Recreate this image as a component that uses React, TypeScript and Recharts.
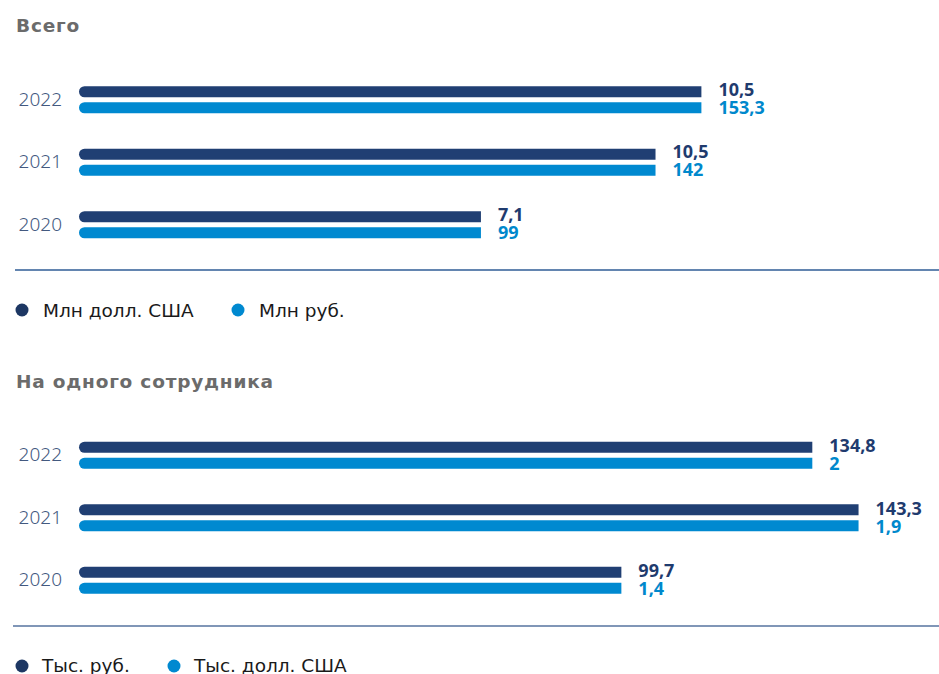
import React from 'react';
import { BarChart, Bar, XAxis, YAxis, LabelList } from 'recharts';

const years = ['2022', '2021', '2020'];
const totalUsd = [10.5, 10.5, 7.1];
const totalRub = [153.3, 142, 99];
const perEmpRub = [134.8, 143.3, 99.7];
const perEmpUsd = [2, 1.9, 1.4];

const titleTop = 'Всего';
const titleBottom = 'На одного сотрудника';
const legendTop = ['Млн долл. США', 'Млн руб.'];
const legendBottom = ['Тыс. руб.', 'Тыс. долл. США'];

const DARK = '#203f73';
const LIGHT = '#0089d0';

const topData = years.map((y, i) => ({ year: y, usd: totalUsd[i], rub: totalRub[i] }));
const bottomData = years.map((y, i) => ({ year: y, rub: perEmpRub[i], usd: perEmpUsd[i] }));

// both bars of a pair share the rouble length, as in the reference
const lengthA = (d: any) => d.rub;
const lengthB = (d: any) => d.rub;

const fmt = (v: any) => String(v).replace('.', ',');

const makeLabel = (color: string, dy: number) => (props: any) => {
  const { x, y, width, value } = props;
  return (
    <text
      x={Number(x) + Number(width) + 17}
      y={Number(y) + dy}
      fill={color}
      fontSize={18}
      fontWeight={700}
      fontFamily="'Noto Sans', sans-serif"
    >
      {fmt(value)}
    </text>
  );
};

const YearTick = (props: any) => {
  const { y, payload } = props;
  return (
    <text
      x={62}
      y={Number(y) + 6}
      textAnchor="end"
      fill="#43597f"
      fontSize={19}
      fontWeight={300}
      fontFamily="'Noto Sans', sans-serif"
    >
      {payload.value}
    </text>
  );
};

const TITLE_FONT = "'DejaVu Sans', sans-serif";
const LEGEND_FONT = "'DejaVu Sans', sans-serif";

export default function App() {
  return (
    <div style={{ position: 'absolute', left: 0, top: 0, width: 939, height: 674, background: '#fff' }}>
      <svg width={939} height={674} style={{ position: 'absolute', left: 0, top: 0 }}>
        <text x={16} y={32} fontSize={18.5} fontWeight={700} fontFamily={TITLE_FONT} letterSpacing={0.8} fill="#6b6b6b">
          {titleTop}
        </text>
        <line x1={15} x2={939} y1={270} y2={270} stroke="#2f5d96" strokeWidth={1.5} />
        <circle cx={22} cy={310} r={6.5} fill="#1d3763" />
        <text x={43} y={317} fontSize={18.5} fontFamily={LEGEND_FONT} fill="#1a1a1a">{legendTop[0]}</text>
        <circle cx={238} cy={310} r={6.5} fill={LIGHT} />
        <text x={259} y={317} fontSize={18.5} fontFamily={LEGEND_FONT} fill="#1a1a1a">{legendTop[1]}</text>

        <text x={16} y={388} fontSize={18.5} fontWeight={700} fontFamily={TITLE_FONT} letterSpacing={0.8} fill="#6b6b6b">
          {titleBottom}
        </text>
        <line x1={13} x2={939} y1={626} y2={626} stroke="#56739f" strokeWidth={1.5} />
        <circle cx={22} cy={666} r={6.5} fill="#1d3763" />
        <text x={42} y={672} fontSize={18.5} fontFamily={LEGEND_FONT} fill="#1a1a1a">{legendBottom[0]}</text>
        <circle cx={174} cy={666} r={6.5} fill={LIGHT} />
        <text x={194} y={672} fontSize={18.5} fontFamily={LEGEND_FONT} fill="#1a1a1a">{legendBottom[1]}</text>
      </svg>

      <div style={{ position: 'absolute', left: 0, top: 0 }}>
        <BarChart
          width={939}
          height={270}
          data={topData}
          layout="vertical"
          barSize={11}
          barGap={5}
          margin={{ top: 68.25, bottom: 14.25, left: 0, right: 48 }}
        >
          <XAxis type="number" domain={[0, 200]} hide />
          <YAxis type="category" dataKey="year" width={79} axisLine={false} tickLine={false} tick={<YearTick />} />
          <Bar dataKey={lengthA} name="Млн долл. США" fill={DARK} radius={[5.5, 0, 0, 5.5]} isAnimationActive={false}>
            <LabelList dataKey="usd" content={makeLabel('#1f3b6e', 9.5)} />
          </Bar>
          <Bar dataKey={lengthB} name="Млн руб." fill={LIGHT} radius={[5.5, 0, 0, 5.5]} isAnimationActive={false}>
            <LabelList dataKey="rub" content={makeLabel('#0088cc', 11.5)} />
          </Bar>
        </BarChart>
      </div>

      <div style={{ position: 'absolute', left: 0, top: 360 }}>
        <BarChart
          width={939}
          height={270}
          data={bottomData}
          layout="vertical"
          barSize={11}
          barGap={5}
          margin={{ top: 63.75, bottom: 18.75, left: 0, right: 44 }}
        >
          <XAxis type="number" domain={[0, 150]} hide />
          <YAxis type="category" dataKey="year" width={79} axisLine={false} tickLine={false} tick={<YearTick />} />
          <Bar dataKey={lengthA} name="Тыс. руб." fill={DARK} radius={[5.5, 0, 0, 5.5]} isAnimationActive={false}>
            <LabelList dataKey="rub" content={makeLabel('#1f3b6e', 10.5)} />
          </Bar>
          <Bar dataKey={lengthB} name="Тыс. долл. США" fill={LIGHT} radius={[5.5, 0, 0, 5.5]} isAnimationActive={false}>
            <LabelList dataKey="usd" content={makeLabel('#0088cc', 12.5)} />
          </Bar>
        </BarChart>
      </div>
    </div>
  );
}
